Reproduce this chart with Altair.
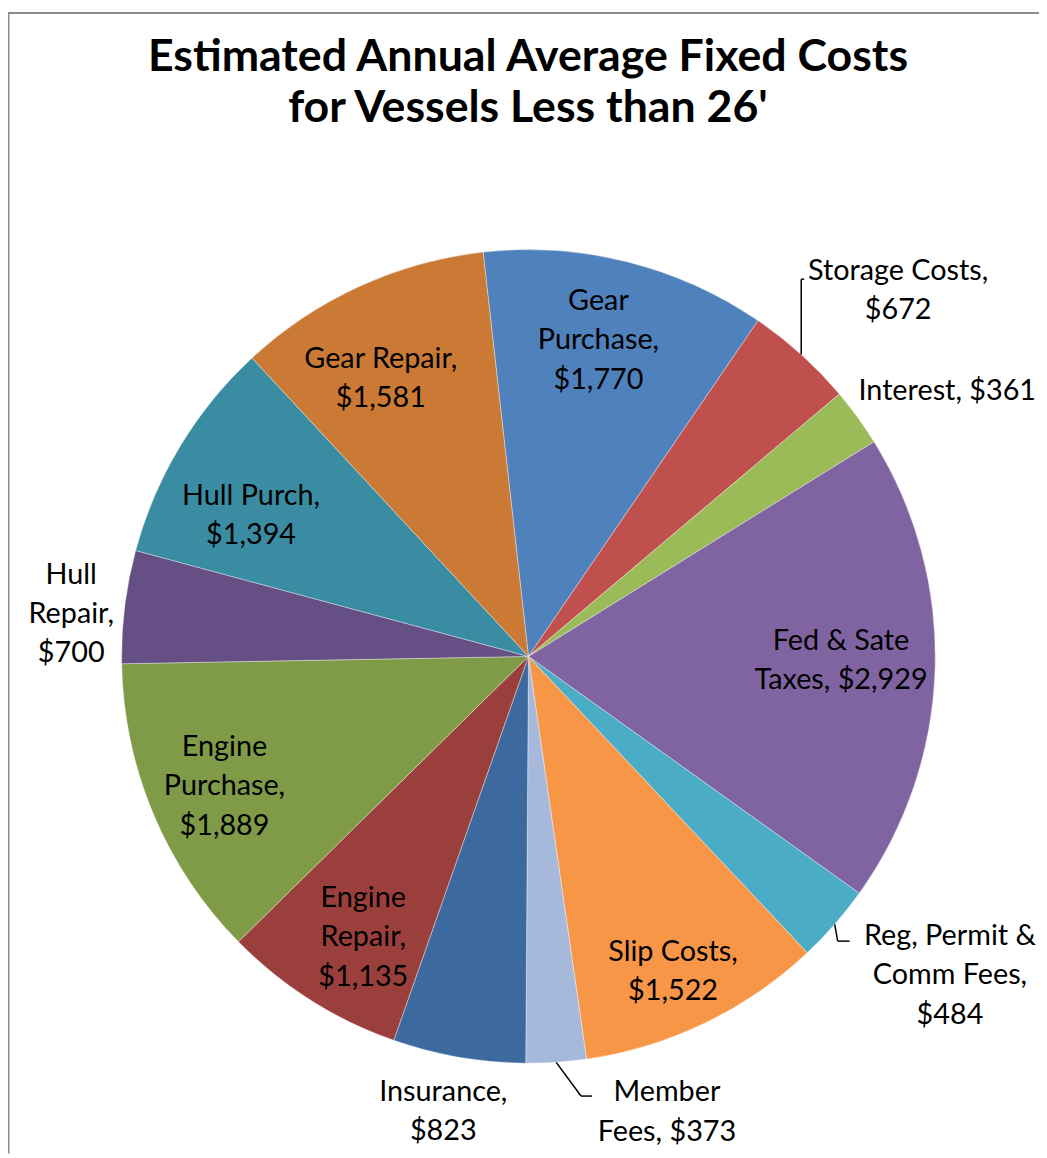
import math
import altair as alt
import pandas as pd

# ---- data ----
categories = ["Gear Purchase", "Storage Costs", "Interest", "Fed & Sate Taxes",
              "Reg, Permit & Comm Fees", "Slip Costs", "Member Fees", "Insurance",
              "Engine Repair", "Engine Purchase", "Hull Repair", "Hull Purch", "Gear Repair"]
values = [1770, 672, 361, 2929, 484, 1522, 373, 823, 1135, 1889, 700, 1394, 1581]
label_texts = [
    "Gear\nPurchase,\n$1,770",
    "Storage Costs,\n$672",
    "Interest, $361",
    "Fed & Sate\nTaxes, $2,929",
    "Reg, Permit &\nComm Fees,\n$484",
    "Slip Costs,\n$1,522",
    "Member\nFees, $373",
    "Insurance,\n$823",
    "Engine\nRepair,\n$1,135",
    "Engine\nPurchase,\n$1,889",
    "Hull\nRepair,\n$700",
    "Hull Purch,\n$1,394",
    "Gear Repair,\n$1,581",
]
title_lines = ["Estimated Annual Average Fixed Costs", "for Vessels Less than 26'"]
colors = ["#4F81BD", "#C0504D", "#9BBB59", "#8064A2", "#4BACC6", "#F79646", "#A7B9DA",
          "#3D6A9E", "#9B3F3C", "#7F9B48", "#664F84", "#3A8CA2", "#CB7A35"]

# ---- layout (style, not data) ----
CX, CY, R = 524.5, 649.0, 410.0
START_DEG = -6.4
LINE_H = 39.5
label_radius = [329, 526, 501, 315, 531, 347, 477, 464, 326, 332, 463, 315, 320]
label_angle_adj = [-1.6, 3.0, 3.4, -1.7, -4.3, 0.9, -13.1, 0.8, -1.7, 0.1, -1.4, -3.7, -3.1]
label_dy = 3  # small downward nudge of all labels
# leader lines: category -> list of (dx, dy) steps from the pie edge point
leaders = {
    "Storage Costs": [(0, -76), (3, 0)],
    "Reg, Permit & Comm Fees": [(3, 17), (12, 0)],
    "Member Fees": [(25, 34), (11, 0)],
}

total = float(sum(values))
rows = []
cum = 0.0
for i, (c, v) in enumerate(zip(categories, values)):
    t0 = cum / total * 360.0
    cum += v
    t1 = cum / total * 360.0
    mid = (t0 + t1) / 2
    # block centre of the label (polar), then move anchor to first line
    a = math.radians(mid + label_angle_adj[i] + START_DEG)
    bx = label_radius[i] * math.sin(a)
    by = -label_radius[i] * math.cos(a) + label_dy
    n = label_texts[i].count("\n") + 1
    fy = by - (n - 1) / 2 * LINE_H
    lr = math.hypot(bx, fy)
    lt = math.degrees(math.atan2(bx, -fy)) - START_DEG
    if lt < -20:
        lt += 360
    rows.append(dict(cat=c, value=v, t0=t0, t1=t1, mid=mid, lt=lt, lr=lr,
                     label=label_texts[i]))
df = pd.DataFrame(rows)

seg_rows = []
for c, steps in leaders.items():
    mid = df.loc[df.cat == c, "mid"].iloc[0]
    a = math.radians(mid + START_DEG)
    x = CX + R * math.sin(a)
    y = CY - R * math.cos(a)
    for dx, dy in steps:
        seg_rows.append(dict(x=x, y=y, x2=x + dx, y2=y + dy))
        x, y = x + dx, y + dy
segs = pd.DataFrame(seg_rows)

theta_scale = alt.Scale(domain=[0, 360],
                        range=[math.radians(START_DEG), math.radians(START_DEG) + 2 * math.pi])

arcs = alt.Chart(df).mark_arc(outerRadius=R, stroke="white", strokeWidth=0.6, strokeOpacity=0.6).encode(
    theta=alt.Theta("t0:Q", scale=theta_scale, stack=None),
    theta2="t1:Q",
    color=alt.Color("cat:N", scale=alt.Scale(domain=categories, range=colors), legend=None),
    x=alt.value(CX), y=alt.value(CY),
)

labels = alt.Chart(df).mark_text(
    font="Lato", fontSize=29, lineBreak="\n", lineHeight=LINE_H,
    align="center", baseline="middle", color="#000000"
).encode(
    theta=alt.Theta("lt:Q", scale=theta_scale, stack=None),
    radius=alt.Radius("lr:Q", scale=None),
    text="label:N",
    x=alt.value(CX), y=alt.value(CY),
)

leader_lines = alt.Chart(segs).mark_rule(color="#000000", strokeWidth=1.5).encode(
    x=alt.X("x:Q", scale=None), y=alt.Y("y:Q", scale=None),
    x2="x2:Q", y2="y2:Q",
)

title_df = pd.DataFrame({"line": ["\n".join(title_lines)]})
title = alt.Chart(title_df).mark_text(
    font="Lato", fontSize=45, fontWeight="bold", align="center", baseline="alphabetic",
    color="#000000", lineBreak="\n", lineHeight=51
).encode(
    x=alt.value(524), y=alt.value(59),
    text="line:N",
)

frame = alt.layer(
    alt.Chart(title_df).mark_rule(color="#8C8C8C", strokeWidth=2).encode(
        x=alt.value(0.5), x2=alt.value(0.5), y=alt.value(0), y2=alt.value(1150)),
    alt.Chart(title_df).mark_rule(color="#8C8C8C", strokeWidth=2).encode(
        x=alt.value(0), x2=alt.value(1039), y=alt.value(0.5), y2=alt.value(0.5)),
)

chart = alt.layer(frame, arcs, leader_lines, labels, title).properties(
    width=1039, height=1150, padding=0,
    autosize=alt.AutoSizeParams(type="none"),
).configure_view(stroke=None)

chart.save("out.html", embed_options={"renderer": "svg", "actions": False})
